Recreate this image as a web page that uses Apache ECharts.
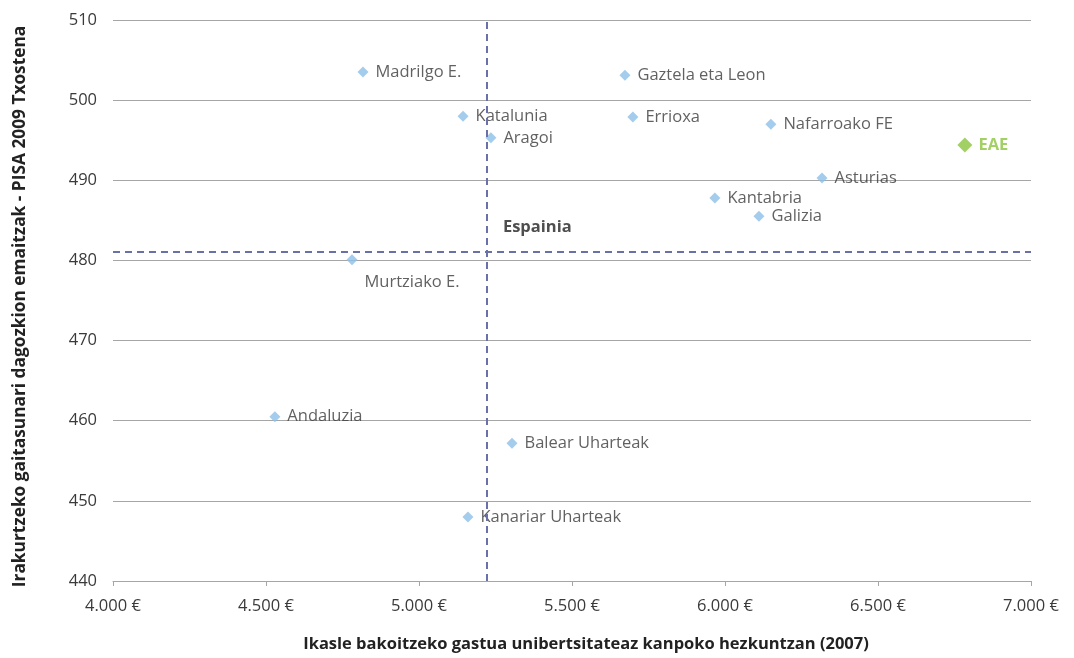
<!DOCTYPE html>
<html>
<head>
<meta charset="utf-8">
<script src="https://cdn.jsdelivr.net/npm/echarts@6/dist/echarts.min.js"></script>
<style>
    html, body { margin: 0; padding: 0; background: #fff; }
    #main { width: 1074px; height: 658px; }
</style>
</head>
<body>
<div id="main"></div>
<script>
    // Autonomia erkidegoak
    var regions = ['Madrilgo E.', 'Gaztela eta Leon', 'Katalunia', 'Errioxa', 'Aragoi', 'Nafarroako FE',
        'Asturias', 'Kantabria', 'Galizia', 'Murtziako E.', 'Andaluzia', 'Balear Uharteak', 'Kanariar Uharteak'];
    var spending = [4817, 5673, 5144, 5699, 5235, 6150, 6317, 5967, 6111, 4781, 4529, 5304, 5160];
    var scores = [503.5, 503.1, 498.0, 497.9, 495.3, 497.0, 490.3, 487.8, 485.5, 480.1, 460.5, 457.2, 448.0];

    var eaeName = 'EAE';
    var eaeSpending = 6784;
    var eaeScore = 494.4;

    var spainName = 'Espainia';
    var spainSpending = 5222;
    var spainScore = 481.05;

    var font = '"Open Sans", "Noto Sans", sans-serif';
    var fs = 16.5;

    var pts = [];
    for (var i = 0; i < regions.length; i++) {
        var p = { name: regions[i], value: [spending[i], scores[i]] };
        if (regions[i] === 'Murtziako E.') {
            p.label = { offset: [0, 23] };
        }
        pts.push(p);
    }

    function euro(v) {
        return String(v).replace(/\B(?=(\d{3})+(?!\d))/g, '.') + ' €';
    }

    var option = {
        animation: false,
        grid: { left: 113, right: 43, top: 20, bottom: 77 },
        xAxis: {
            type: 'value',
            min: 4000, max: 7000, interval: 500,
            name: 'Ikasle bakoitzeko gastua unibertsitateaz kanpoko hezkuntzan (2007)',
            nameLocation: 'middle',
            nameGap: 55,
            nameTextStyle: { fontFamily: font, fontWeight: 'bold', fontSize: fs, color: '#222', padding: [0, 0, 0, 28] },
            axisLine: { show: true, lineStyle: { color: '#a6a6a6' } },
            axisTick: { show: true, length: 5, lineStyle: { color: '#a6a6a6' } },
            axisLabel: { margin: 17, fontFamily: font, fontSize: fs, color: '#3a3a3a', formatter: euro },
            splitLine: { show: false }
        },
        yAxis: {
            type: 'value',
            min: 440, max: 510, interval: 10,
            name: 'Irakurtzeko gaitasunari dagozkion emaitzak - PISA 2009 Txostena',
            nameLocation: 'middle',
            nameGap: 84,
            nameTextStyle: { fontFamily: font, fontWeight: 'bold', fontSize: 17.3, color: '#222', padding: [0, 12, 0, 0] },
            axisLine: { show: false },
            axisTick: { show: false },
            axisLabel: { margin: 16, fontFamily: font, fontSize: fs, color: '#3a3a3a' },
            splitLine: { lineStyle: { color: '#a6a6a6', width: 1 } }
        },
        series: [
            {
                name: 'Erkidegoak',
                type: 'scatter',
                symbol: 'diamond',
                symbolSize: 11,
                itemStyle: { color: '#8dbfe8' },
                label: {
                    show: true, position: 'right', distance: 7,
                    formatter: '{b}', fontFamily: font, fontSize: fs, color: '#3a3a3a'
                },
                data: pts,
                markLine: {
                    silent: true,
                    symbol: 'none',
                    label: { show: false },
                    lineStyle: { color: '#6a70a8', type: [7, 5], width: 2 },
                    data: [{ xAxis: spainSpending }, { yAxis: spainScore }]
                },
                z: 3
            },
            {
                name: eaeName,
                type: 'scatter',
                symbol: 'diamond',
                symbolSize: 15,
                itemStyle: { color: '#8cc43f' },
                label: {
                    show: true, position: 'right', distance: 6,
                    formatter: '{b}', fontFamily: font, fontSize: fs, fontWeight: 'bold', color: '#8cc43f'
                },
                data: [{ name: eaeName, value: [eaeSpending, eaeScore] }],
                z: 4
            },
            {
                name: spainName,
                type: 'scatter',
                symbolSize: 0,
                silent: true,
                label: {
                    show: true, position: 'right', distance: 5, offset: [11, -25],
                    formatter: '{b}', fontFamily: font, fontSize: fs, fontWeight: 'bold', color: '#222'
                },
                data: [{ name: spainName, value: [spainSpending, spainScore] }]
            }
        ]
    };

    echarts.init(document.getElementById('main')).setOption(option);
</script>
</body>
</html>
